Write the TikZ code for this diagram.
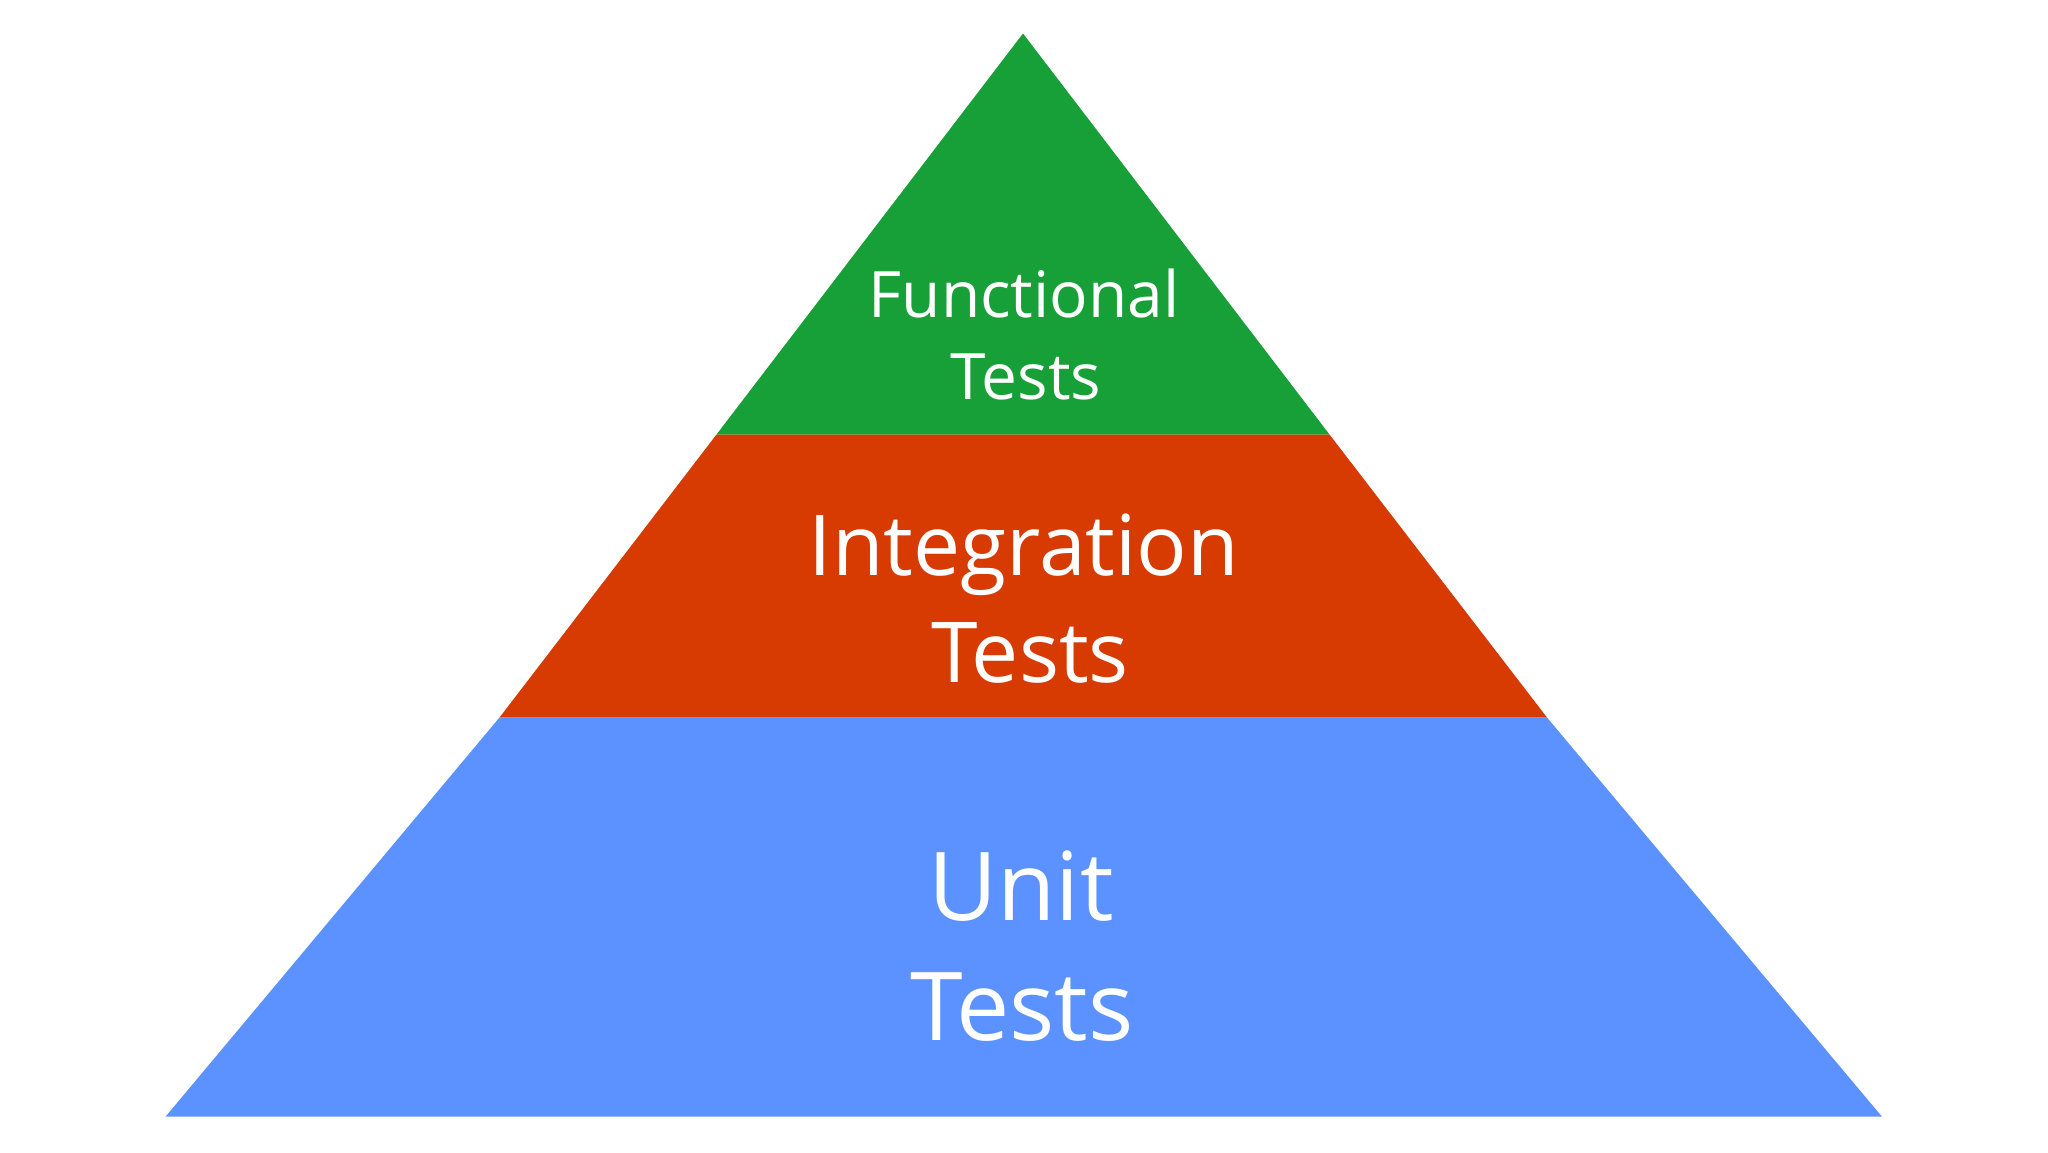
\documentclass[tikz,border=0pt]{standalone}
\usepackage{fontspec}
\setmainfont{Open Sans}
\definecolor{pgreen}{RGB}{22,160,55}
\definecolor{pred}{RGB}{216,59,1}
\definecolor{pblue}{RGB}{91,146,255}
\tikzset{
  lbl/.style={text=white, inner sep=0pt, anchor=base},
  small/.style={lbl, font=\fontsize{64}{77}\selectfont},
  mid/.style={lbl, font=\fontsize{84}{100}\selectfont},
  big/.style={lbl, font=\fontsize{95}{114}\selectfont}
}
\begin{document}
\begin{tikzpicture}[x=1pt,y=-1pt]
\useasboundingbox (0,0) rectangle (2048,1152);
\fill[white] (0,0) rectangle (2048,1152);
% tiers
\fill[pgreen] (1023,33.5) -- (1329.5,434.5) -- (716.5,434.5) -- cycle;
\fill[pred] (716.5,434.5) -- (1329.5,434.5) -- (1547,717.5) -- (499.5,717.5) -- cycle;
\fill[pblue] (499.5,717.5) -- (1547,717.5) -- (1882,1116.7) -- (165.5,1116.7) -- cycle;
% labels
\node[small] (f1) at (1024,317) {Functional};
\node[small] (f2) at (1026,399) {Tests};
\node[mid] (i1) at (1024,575) {Integration};
\node[mid] (i2) at (1030,682) {Tests};
\node[big] (u1) at (1021,920) {Unit};
\node[big] (u2) at (1022,1040) {Tests};
\end{tikzpicture}
\end{document}
